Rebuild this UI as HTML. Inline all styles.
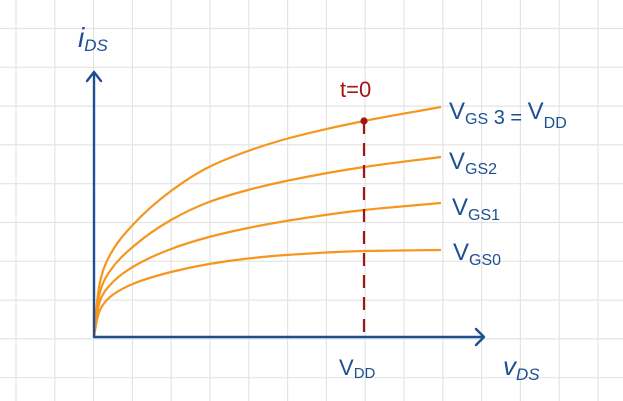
<!DOCTYPE html>
<html><head><meta charset="utf-8"><style>
html,body{margin:0;padding:0;background:#fff;}
svg{display:block}
text{font-family:"Liberation Sans",sans-serif;}
.lb{fill:#1d4f91;}
</style></head><body>
<svg id="c" width="623" height="401" viewBox="0 0 623 401">
<g id="grid"></g>
<g id="curves"></g>
<line x1="364" y1="121" x2="364" y2="337" stroke="#a31515" stroke-width="2.2" stroke-dasharray="13,9"/>
<circle cx="364" cy="121" r="3.6" fill="#a31515"/>
<g stroke="#1d4f91" stroke-width="2.4" fill="none" stroke-linecap="round" stroke-linejoin="round">
<line x1="94" y1="337" x2="94" y2="73"/>
<polyline points="87,81 94,72 101,81"/>
<line x1="94" y1="337" x2="483" y2="337"/>
<polyline points="476,329 484,337 476,345"/>
</g>
<text class="lb" x="78" y="47" font-size="28" font-style="italic">i<tspan font-size="17" dy="4">DS</tspan></text>
<text class="lb" x="503" y="375" font-size="26" font-style="italic">v<tspan font-size="17" dy="5">DS</tspan></text>
<text class="lb" x="339" y="375" font-size="22">V<tspan font-size="15" dy="3">DD</tspan></text>
<text x="340" y="97" font-size="22" fill="#a31515">t=0</text>
<text class="lb" x="449" y="119" font-size="24">V<tspan font-size="16" dy="5">GS</tspan><tspan font-size="20"> 3 = </tspan><tspan font-size="24" dy="-5">V</tspan><tspan font-size="16" dy="9">DD</tspan></text>
<text class="lb" x="449" y="169" font-size="24">V<tspan font-size="16" dy="5">GS2</tspan></text>
<text class="lb" x="452" y="215" font-size="24">V<tspan font-size="16" dy="5">GS1</tspan></text>
<text class="lb" x="453" y="260" font-size="24">V<tspan font-size="16" dy="5">GS0</tspan></text>
</svg>
<script>
const vds=[0,0.0173,0.0461,0.1115,0.2219,0.3314,0.4438,0.5533,0.778,1.0];
const iVgs3=[0,0.55,0.82,1.12,1.46,1.70,1.86,1.98,2.16,2.30];
const iVgs2=[0,0.45,0.66,0.9,1.17,1.35,1.47,1.56,1.70,1.80];
const iVgs1=[0,0.36,0.52,0.7,0.88,1.0,1.09,1.16,1.27,1.34];
const iVgs0=[0,0.27,0.4,0.53,0.65,0.73,0.785,0.82,0.86,0.87];
const seriesNames=['vgs3','vgs2','vgs1','vgs0'];
const NS='http://www.w3.org/2000/svg';
function xS(v){return 94+v*347;}
function yS(i){return 337-i*100;}
const grid=document.getElementById('grid');
for(let x=16;x<623;x+=38.8){const l=document.createElementNS(NS,'line');l.setAttribute('x1',x);l.setAttribute('x2',x);l.setAttribute('y1',0);l.setAttribute('y2',401);l.setAttribute('stroke','#e4e4e4');l.setAttribute('stroke-width','1.2');


grid.appendChild(l);}
for(let y=28.5;y<401;y+=38.8){const l=document.createElementNS(NS,'line');l.setAttribute('y1',y);l.setAttribute('y2',y);l.setAttribute('x1',0);l.setAttribute('x2',623);l.setAttribute('stroke','#e4e4e4');l.setAttribute('stroke-width','1.2');


grid.appendChild(l);}
function path(ys){
  const X=vds.map(xS),Y=ys.map(yS),n=X.length;
  const d=[],m=[];
  for(let k=0;k<n-1;k++)d.push((Y[k+1]-Y[k])/(X[k+1]-X[k]));
  m[0]=d[0]*1.5;m[n-1]=d[n-2];
  for(let k=1;k<n-1;k++){
    if(d[k-1]*d[k]<=0)m[k]=0;
    else{const h0=X[k]-X[k-1],h1=X[k+1]-X[k];const w1=2*h1+h0,w2=h1+2*h0;m[k]=(w1+w2)/(w1/d[k-1]+w2/d[k]);}
  }
  let s='M'+X[0]+','+Y[0];
  for(let k=0;k<n-1;k++){const h=(X[k+1]-X[k])/3;
    s+=' C'+(X[k]+h)+','+(Y[k]+m[k]*h)+' '+(X[k+1]-h)+','+(Y[k+1]-m[k+1]*h)+' '+X[k+1]+','+Y[k+1];}
  return s;}
const cg=document.getElementById('curves');
[iVgs3,iVgs2,iVgs1,iVgs0].forEach((s,k)=>{const e=document.createElementNS(NS,'path');e.setAttribute('d',path(s));e.setAttribute('fill','none');e.setAttribute('stroke','#f5961e');e.setAttribute('stroke-width','2.2');


cg.appendChild(e);});
</script>
</body></html>
